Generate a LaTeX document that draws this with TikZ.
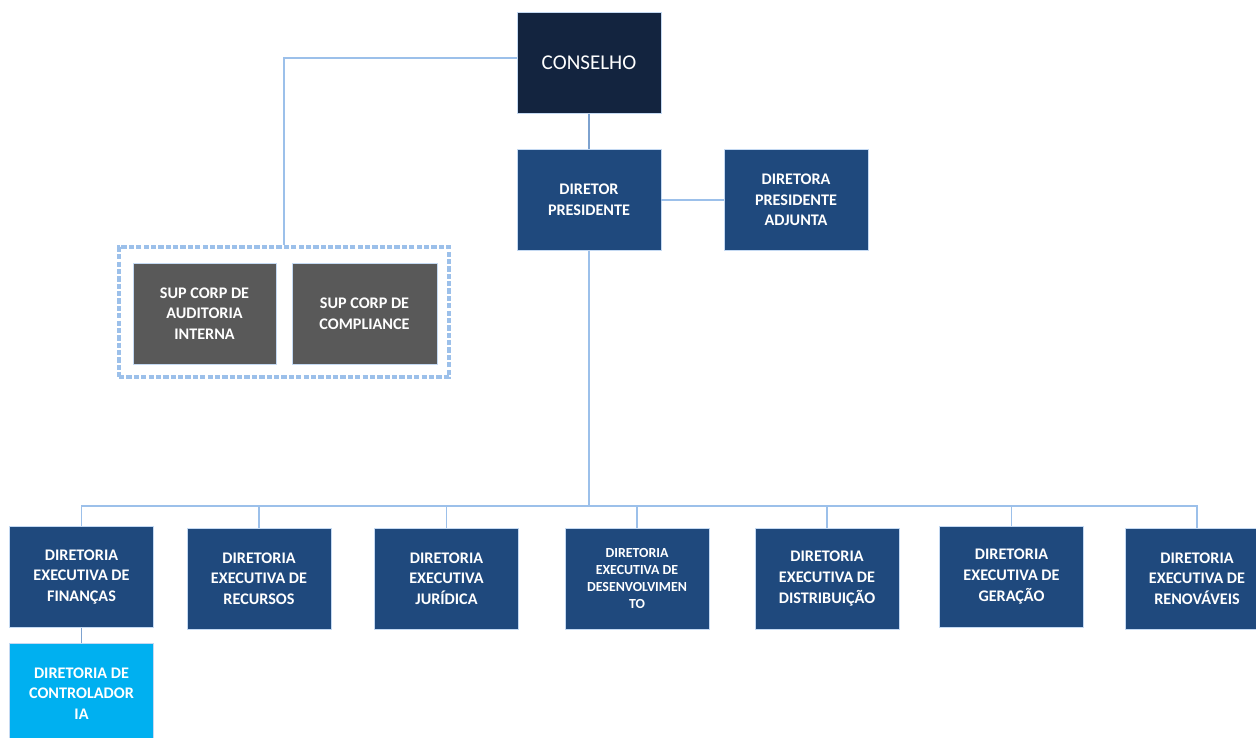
\documentclass[tikz,border=0pt]{standalone}
\usepackage{fontspec}
\setmainfont{Carlito}
\usetikzlibrary{positioning}
\definecolor{boardnavy}{HTML}{13243F}
\definecolor{darkblue}{HTML}{1F497D}
\definecolor{supgray}{HTML}{595959}
\definecolor{ctrlblue}{HTML}{00B0F0}
\definecolor{lineblue}{HTML}{9CC0EA}

\begin{document}
\begin{tikzpicture}[x=0.02cm, y=-0.02cm,
    box/.style={rectangle, fill=darkblue, draw=lineblue!60, line width=0.3pt, text=white, align=center, inner sep=1pt,
        minimum width=2.88cm, minimum height=2.02cm, font=\bfseries\fontsize{9.2}{11.7}\selectfont},
    link/.style={draw=lineblue, line width=0.9pt}]
    \useasboundingbox (0,0) rectangle (1256,737);

    % Top
    \node[box, fill=boardnavy, font=\fontsize{12}{14}\selectfont] (conselho) at (589, 63) {CONSELHO};
    \node[box] (dp) at (589, 200) {DIRETOR\\PRESIDENTE};
    \node[box] (dpa) at (796, 200) {DIRETORA\\PRESIDENTE\\ADJUNTA};

    % Superintendencias
    \node[draw=lineblue, line width=2.6pt, dash pattern=on 3pt off 1.2pt, minimum width=6.6cm, minimum height=2.6cm] (supgroup) at (284, 312) {};
    \node[box, fill=supgray, minimum width=2.86cm] (supaud) at (204.5, 313.5) {SUP CORP DE\\AUDITORIA\\INTERNA};
    \node[box, fill=supgray, minimum width=2.9cm] (supcomp) at (364.5, 313.5) {SUP CORP DE\\COMPLIANCE};

    % Diretorias executivas
    \node[box] (fin) at (81.5, 577) {DIRETORIA\\EXECUTIVA DE\\FINANÇAS};
    \node[box] (rec) at (259, 578.5) {DIRETORIA\\EXECUTIVA DE\\RECURSOS};
    \node[box] (jur) at (446.5, 578.5) {DIRETORIA\\EXECUTIVA\\JURÍDICA};
    \node[box, font=\bfseries\fontsize{7.9}{9.6}\selectfont] (des) at (637, 578.5) {DIRETORIA\\EXECUTIVA DE\\DESENVOLVIMEN\\TO};
    \node[box] (dis) at (827, 578.5) {DIRETORIA\\EXECUTIVA DE\\DISTRIBUIÇÃO};
    \node[box] (ger) at (1011.5, 576.5) {DIRETORIA\\EXECUTIVA DE\\GERAÇÃO};
    \node[box] (ren) at (1197, 578.5) {DIRETORIA\\EXECUTIVA DE\\RENOVÁVEIS};
    \node[box, fill=ctrlblue] (ctrl) at (81.5, 693.5) {DIRETORIA DE\\CONTROLADOR\\IA};

    % Connectors
    \coordinate (bus) at (585, 506);
    \draw[link] ([yshift=0.1cm]conselho.west) -| (supgroup.north);
    \draw[link, draw=lineblue!75!darkblue] (conselho.south) -- (dp.north);
    \draw[link] (dp.east) -- (dpa.west);
    \draw[link] (dp.south) -- (dp.south |- bus);
    \foreach \d in {fin,rec,jur,des,dis,ger,ren}
        \draw[link] (dp.south |- bus) -| (\d.north);
    \draw[link, draw=lineblue!75!darkblue] (fin.south) -- (ctrl.north);

\end{tikzpicture}
\end{document}
